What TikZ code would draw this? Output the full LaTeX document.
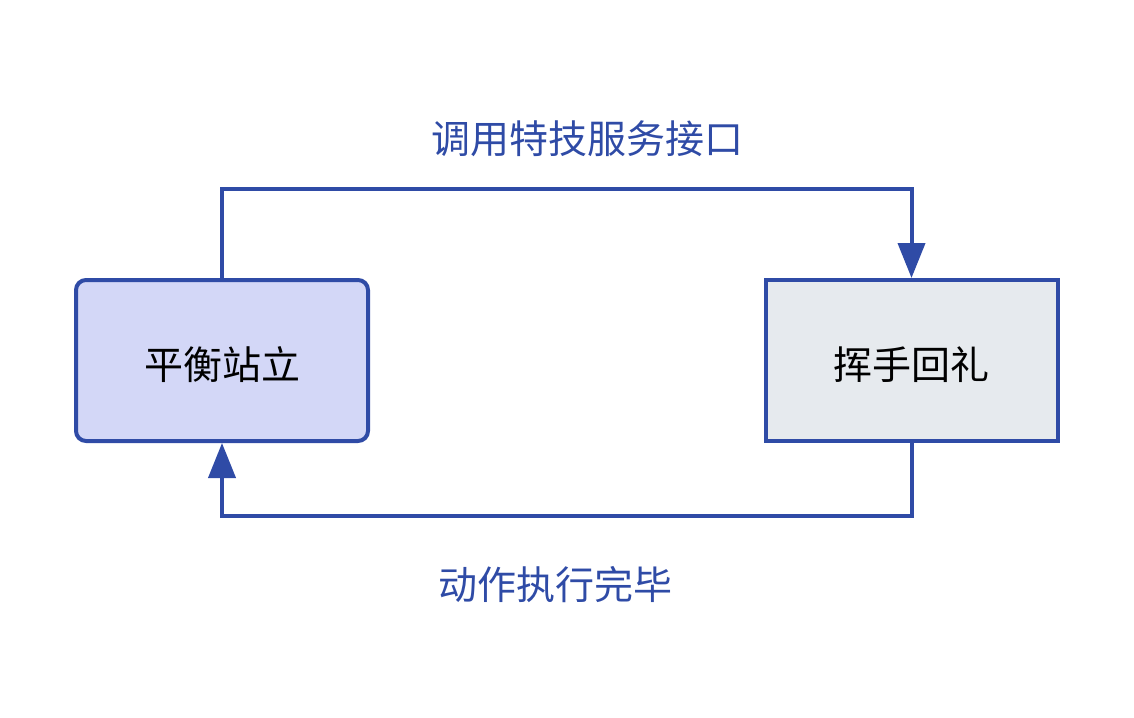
\documentclass[tikz,border=0pt]{standalone}
\usepackage{fontspec}
\setmainfont{Noto Sans CJK SC}
\usetikzlibrary{arrows.meta}
\definecolor{lineblue}{HTML}{2F4BA6}
\definecolor{lavender}{HTML}{D3D7F7}
\definecolor{paleGray}{HTML}{E6EAEE}
\newcommand{\lowertext}[1]{\raisebox{-4pt}[\height][\depth]{#1}}
\tikzset{
  statebox/.style={draw=lineblue, line width=4pt, minimum width=292pt, minimum height=161pt, inner sep=0pt, font=\fontsize{39}{47}\selectfont, text=black},
  flow/.style={draw=lineblue, line width=4pt, -{Triangle[length=35pt,width=27pt]}},
  flowlabel/.style={text=lineblue, font=\fontsize{39}{47}\selectfont, inner sep=0pt}
}
\begin{document}
\begin{tikzpicture}[x=1pt,y=-1pt]
\useasboundingbox (0,0) rectangle (1134,717);
\node[statebox, fill=lavender, rounded corners=10pt] (stand) at (222,360.5) {\lowertext{平衡站立}};
\node[statebox, fill=paleGray] (wave) at (911.5,360.5) {\lowertext{挥手回礼}};
\coordinate (tl) at (222,189);
\coordinate (tr) at (911.5,189);
\coordinate (bl) at (222,516);
\coordinate (br) at (911.5,516);
\draw[flow] (stand.north) -- (tl) -- (tr) -- (wave.north);
\draw[flow] (wave.south) -- (br) -- (bl) -- (stand.south);
\node[flowlabel] (callapi) at (587,139) {调用特技服务接口};
\node[flowlabel] (done) at (555,585) {动作执行完毕};
\end{tikzpicture}
\end{document}
